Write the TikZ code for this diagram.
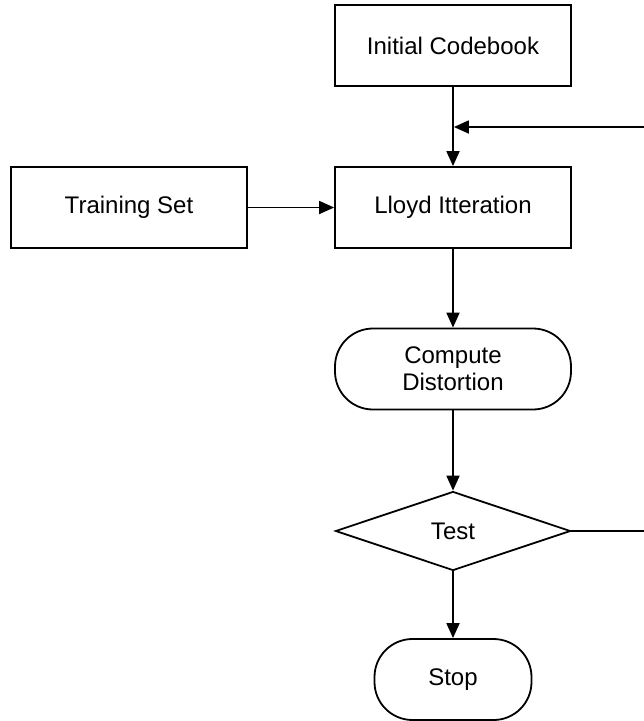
\documentclass[tikz,border=0pt]{standalone}
\usepackage{fontspec}
\setmainfont{Liberation Sans}
\usetikzlibrary{arrows.meta,shapes.geometric}
\tikzset{
  box/.style={draw,line width=1.8pt,minimum width=236pt,minimum height=81pt,inner sep=0pt,align=center},
  term/.style={box,rounded corners=38pt},
  arr/.style={line width=1.8pt,-{Triangle[length=15pt,width=13pt]}}
}
\begin{document}
\begin{tikzpicture}[x=1pt,y=-1pt,font=\fontsize{24}{27}\selectfont]
            \useasboundingbox (0,0) rectangle (644,721);
            \node[box] (init) at (453,45.5) {Initial Codebook};
            \node[box] (lloyd) at (453,207.5) {Lloyd Itteration};
            \node[box] (train) at (129,207.5) {Training Set};
            \node[term] (dist) at (453,369) {Compute\\Distortion};
            \node[draw,line width=1.8pt,diamond,minimum width=235pt,minimum height=79pt,inner sep=0pt] (test) at (453,531) {Test};
            \node[term,minimum width=157pt] (stop) at (453,679.5) {Stop};
            \coordinate (back) at (660,531);
            \coordinate (ret) at (660,127);
            \coordinate (join) at (453,127);
            \draw[arr] (init) -- (lloyd);
            \draw[arr] (train) -- (lloyd);
            \draw[arr] (lloyd) -- (dist);
            \draw[arr] (dist) -- (test);
            \draw[arr] (test) -- (stop);
            \draw[line width=1.8pt] (test.east) -- (back);
            \draw[arr] (ret) -- ([xshift=0.9pt]join);
\end{tikzpicture}
\end{document}
